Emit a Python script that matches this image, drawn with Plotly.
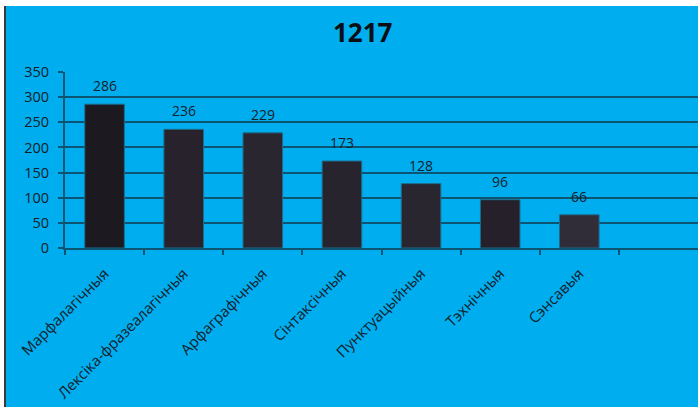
import plotly.graph_objects as go

categories = ["Марфалагічныя", "Лексіка-фразеалагічныя", "Арфаграфічныя", "Сінтаксічныя",
              "Пунктуацыйныя", "Тэхнічныя", "Сэнсавыя"]
values = [286, 236, 229, 173, 128, 96, 66]
bar_colors = ["#1c1921", "#27222c", "#2a2630", "#28242e", "#2a2630", "#25202a", "#302c38"]
title_text = "1217"
y_ticks = [0, 50, 100, 150, 200, 250, 300, 350]

W, H = 698, 407
L, R, T, B = 65, 0, 72, 159
pw, ph = W - L - R, H - T - B

def px_x(px):
    return (px - L) / pw

def px_y(py):
    return (H - B - py) / ph

BLUE = "#00aeef"
GRID = "#0b5472"
TXT = "#14202a"
FONT = "Open Sans"

fig = go.Figure()
fig.add_trace(go.Bar(
    x=categories, y=values, width=0.5,
    marker=dict(color=bar_colors, line=dict(color="#1f6b8a", width=1)),
    hoverinfo="skip",
))

for c, v in zip(categories, values):
    fig.add_annotation(x=c, y=v, text=str(v), showarrow=False, yanchor="bottom",
                       yshift=7, font=dict(family=FONT, size=14, color=TXT))

fig.add_annotation(x=px_x(363), y=px_y(32), xref="paper", yref="paper", text="<b>" + title_text + "</b>",
                   showarrow=False, xanchor="center", yanchor="middle",
                   font=dict(family=FONT, size=26, color="#0b0f14"))

# white top band and left band with dark border
fig.add_shape(type="rect", xref="paper", yref="paper", x0=px_x(-10), x1=px_x(710),
              y0=px_y(6), y1=px_y(-10), fillcolor="white", line_width=0, layer="above")
fig.add_shape(type="rect", xref="paper", yref="paper", x0=px_x(-10), x1=px_x(4),
              y0=px_y(420), y1=px_y(-10), fillcolor="white", line_width=0, layer="above")
fig.add_shape(type="line", xref="paper", yref="paper", x0=px_x(5), x1=px_x(5),
              y0=px_y(420), y1=px_y(6), line=dict(color="#3a3a3a", width=2), layer="above")

fig.update_layout(
    width=W, height=H,
    margin=dict(l=L, r=R, t=T, b=B, pad=0, autoexpand=False),
    paper_bgcolor=BLUE, plot_bgcolor=BLUE,
    showlegend=False,
    bargap=0.5,
    xaxis=dict(
        type="category", range=[-0.5, 7.5],
        tickangle=-45, tickson="boundaries", ticks="outside", ticklen=5,
        tickcolor=GRID, tickwidth=1.5, ticklabelstandoff=9,
        showline=True, linecolor=GRID, linewidth=2,
        showgrid=False, zeroline=False, automargin=False,
        tickfont=dict(family=FONT, size=15, color=TXT),
    ),
    yaxis=dict(
        range=[0, 350], tickvals=y_ticks, ticks="outside", ticklen=5,
        tickcolor=GRID, tickwidth=1.5, ticklabelstandoff=6,
        showline=True, linecolor=GRID, linewidth=2,
        showgrid=True, gridcolor=GRID, gridwidth=2, zeroline=False, automargin=False,
        tickfont=dict(family=FONT, size=14.5, color=TXT),
    ),
)

fig.write_html("out.html", config={"displayModeBar": False},
               post_script="document.body.style.margin='0';")
